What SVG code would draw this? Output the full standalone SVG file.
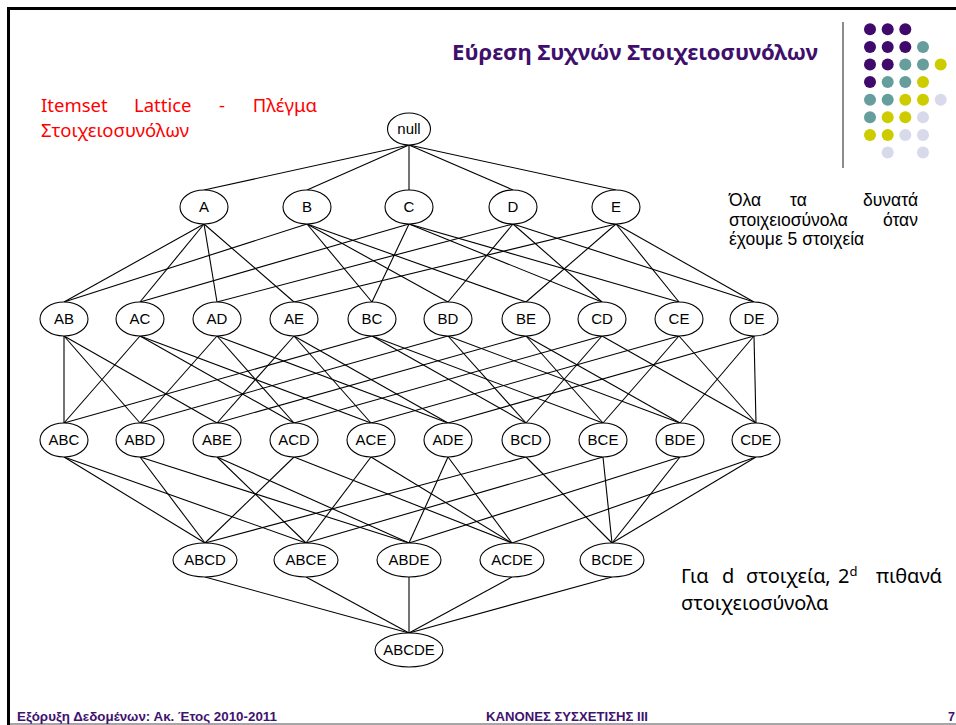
<svg xmlns="http://www.w3.org/2000/svg" width="956" height="725" viewBox="0 0 956 725">
  <defs>
    <style>
      .node ellipse { fill: #ffffff; stroke: #000000; stroke-width: 1.1; }
      .node text { font-family: "Liberation Sans", Arial, sans-serif; font-size: 15px; fill: #000000; text-anchor: middle; }
      #edges line { stroke: #000000; stroke-width: 1.1; }
      .title { font-family: "Noto Sans", "Open Sans", sans-serif; font-weight: bold; font-size: 21.5px; fill: #3f0f6c; }
      .red { font-family: "Noto Sans", "Open Sans", sans-serif; font-size: 18.5px; fill: #ff0000; }
      .note { font-family: "Liberation Sans", Arial, sans-serif; font-size: 17.5px; fill: #000000; }
      .note2 { font-family: "Noto Sans", "Open Sans", sans-serif; font-size: 20px; fill: #000000; }
      .foot { font-family: "Liberation Sans", Arial, sans-serif; font-weight: bold; font-size: 12.5px; fill: #3f1170; }
      .p { fill: #3f0a6b; }
      .t { fill: #669e9e; }
      .y { fill: #cccc00; }
      .l { fill: #d9d9ec; }
    </style>
  </defs>

  <rect x="0" y="0" width="956" height="725" fill="#ffffff"/>

  <!-- slide frame -->
  <line x1="7" y1="8.5" x2="956" y2="8.5" stroke="#000000" stroke-width="3"/>
  <line x1="8.5" y1="7" x2="8.5" y2="725" stroke="#000000" stroke-width="3"/>
  <line x1="10" y1="724" x2="956" y2="724" stroke="#888888" stroke-width="1.5"/>
  <line x1="843" y1="22" x2="843" y2="168" stroke="#666666" stroke-width="1.5"/>

  <!-- decorative dot grid -->
  <g id="dots">
    <circle class="p" cx="870" cy="29.3" r="6"/><circle class="p" cx="887.7" cy="29.3" r="6"/><circle class="p" cx="905.3" cy="29.3" r="6"/>
    <circle class="p" cx="870" cy="46.9" r="6"/><circle class="p" cx="887.7" cy="46.9" r="6"/><circle class="p" cx="905.3" cy="46.9" r="6"/><circle class="t" cx="923" cy="46.9" r="6"/>
    <circle class="p" cx="870" cy="64.5" r="6"/><circle class="p" cx="887.7" cy="64.5" r="6"/><circle class="t" cx="905.3" cy="64.5" r="6"/><circle class="t" cx="923" cy="64.5" r="6"/><circle class="y" cx="940.7" cy="64.5" r="6"/>
    <circle class="p" cx="870" cy="82.1" r="6"/><circle class="t" cx="887.7" cy="82.1" r="6"/><circle class="t" cx="905.3" cy="82.1" r="6"/><circle class="y" cx="923" cy="82.1" r="6"/>
    <circle class="t" cx="870" cy="99.7" r="6"/><circle class="t" cx="887.7" cy="99.7" r="6"/><circle class="y" cx="905.3" cy="99.7" r="6"/><circle class="y" cx="923" cy="99.7" r="6"/><circle class="l" cx="940.7" cy="99.7" r="6"/>
    <circle class="t" cx="870" cy="117.3" r="6"/><circle class="y" cx="887.7" cy="117.3" r="6"/><circle class="y" cx="905.3" cy="117.3" r="6"/><circle class="l" cx="923" cy="117.3" r="6"/>
    <circle class="y" cx="870" cy="134.9" r="6"/><circle class="y" cx="887.7" cy="134.9" r="6"/><circle class="l" cx="905.3" cy="134.9" r="6"/><circle class="l" cx="923" cy="134.9" r="6"/>
    <circle class="l" cx="887.7" cy="152.5" r="6"/><circle class="l" cx="923" cy="152.5" r="6"/>
  </g>

  <!-- headings and notes -->
  <text class="title" x="452" y="60" textLength="366" lengthAdjust="spacingAndGlyphs">Εύρεση Συχνών Στοιχειοσυνόλων</text>

  <g class="red">
    <text x="41" y="112">Itemset</text>
    <text x="134" y="112">Lattice</text>
    <text x="219" y="112">-</text>
    <text x="317" y="112" text-anchor="end">Πλέγμα</text>
    <text x="41" y="137">Στοιχειοσυνόλων</text>
  </g>

  <g class="note">
    <text x="729" y="206">Όλα</text>
    <text x="790" y="206">τα</text>
    <text x="918" y="206" text-anchor="end">δυνατά</text>
    <text x="729" y="226">στοιχειοσύνολα</text>
    <text x="918" y="226" text-anchor="end">όταν</text>
    <text x="729" y="245">έχουμε 5 στοιχεία</text>
  </g>

  <g class="note2">
    <text x="681" y="583">Για</text>
    <text x="722" y="583">d</text>
    <text x="746" y="583">στοιχεία,</text>
    <text x="838" y="583">2<tspan dy="-7" font-size="13">d</tspan></text>
    <text x="942" y="583" text-anchor="end">πιθανά</text>
    <text x="681" y="610">στοιχειοσύνολα</text>
  </g>

  <g class="foot">
    <text x="17" y="721" textLength="260" lengthAdjust="spacingAndGlyphs">Εξόρυξη Δεδομένων: Ακ. Έτος 2010-2011</text>
    <text x="486" y="721" textLength="162" lengthAdjust="spacingAndGlyphs">ΚΑΝΟΝΕΣ ΣΥΣΧΕΤΙΣΗΣ ΙΙΙ</text>
    <text x="948" y="721">7</text>
  </g>

  <!-- lattice connectors: bottom of subset to top of superset -->
  <g id="edges">
    <line x1="409" y1="145" x2="204" y2="190"/>
    <line x1="409" y1="145" x2="307" y2="190"/>
    <line x1="409" y1="145" x2="409" y2="190"/>
    <line x1="409" y1="145" x2="513" y2="190"/>
    <line x1="409" y1="145" x2="616" y2="190"/>

    <line x1="204" y1="224" x2="64" y2="302"/>
    <line x1="204" y1="224" x2="140" y2="302"/>
    <line x1="204" y1="224" x2="217" y2="302"/>
    <line x1="204" y1="224" x2="294" y2="302"/>
    <line x1="307" y1="224" x2="64" y2="302"/>
    <line x1="307" y1="224" x2="372" y2="302"/>
    <line x1="307" y1="224" x2="448" y2="302"/>
    <line x1="307" y1="224" x2="526" y2="302"/>
    <line x1="409" y1="224" x2="140" y2="302"/>
    <line x1="409" y1="224" x2="372" y2="302"/>
    <line x1="409" y1="224" x2="602" y2="302"/>
    <line x1="409" y1="224" x2="679" y2="302"/>
    <line x1="513" y1="224" x2="217" y2="302"/>
    <line x1="513" y1="224" x2="448" y2="302"/>
    <line x1="513" y1="224" x2="602" y2="302"/>
    <line x1="513" y1="224" x2="754" y2="302"/>
    <line x1="616" y1="224" x2="294" y2="302"/>
    <line x1="616" y1="224" x2="526" y2="302"/>
    <line x1="616" y1="224" x2="679" y2="302"/>
    <line x1="616" y1="224" x2="754" y2="302"/>

    <line x1="64" y1="336" x2="64" y2="423"/>
    <line x1="64" y1="336" x2="140" y2="423"/>
    <line x1="64" y1="336" x2="217" y2="423"/>
    <line x1="140" y1="336" x2="64" y2="423"/>
    <line x1="140" y1="336" x2="294" y2="423"/>
    <line x1="140" y1="336" x2="371" y2="423"/>
    <line x1="217" y1="336" x2="140" y2="423"/>
    <line x1="217" y1="336" x2="294" y2="423"/>
    <line x1="217" y1="336" x2="448" y2="423"/>
    <line x1="294" y1="336" x2="217" y2="423"/>
    <line x1="294" y1="336" x2="371" y2="423"/>
    <line x1="294" y1="336" x2="448" y2="423"/>
    <line x1="372" y1="336" x2="64" y2="423"/>
    <line x1="372" y1="336" x2="526" y2="423"/>
    <line x1="372" y1="336" x2="603" y2="423"/>
    <line x1="448" y1="336" x2="140" y2="423"/>
    <line x1="448" y1="336" x2="526" y2="423"/>
    <line x1="448" y1="336" x2="680" y2="423"/>
    <line x1="526" y1="336" x2="217" y2="423"/>
    <line x1="526" y1="336" x2="603" y2="423"/>
    <line x1="526" y1="336" x2="680" y2="423"/>
    <line x1="602" y1="336" x2="294" y2="423"/>
    <line x1="602" y1="336" x2="526" y2="423"/>
    <line x1="602" y1="336" x2="756" y2="423"/>
    <line x1="679" y1="336" x2="371" y2="423"/>
    <line x1="679" y1="336" x2="603" y2="423"/>
    <line x1="679" y1="336" x2="756" y2="423"/>
    <line x1="754" y1="336" x2="448" y2="423"/>
    <line x1="754" y1="336" x2="680" y2="423"/>
    <line x1="754" y1="336" x2="756" y2="423"/>

    <line x1="64" y1="457" x2="205" y2="543"/>
    <line x1="64" y1="457" x2="306" y2="543"/>
    <line x1="140" y1="457" x2="205" y2="543"/>
    <line x1="140" y1="457" x2="409" y2="543"/>
    <line x1="217" y1="457" x2="306" y2="543"/>
    <line x1="217" y1="457" x2="409" y2="543"/>
    <line x1="294" y1="457" x2="205" y2="543"/>
    <line x1="294" y1="457" x2="512" y2="543"/>
    <line x1="371" y1="457" x2="306" y2="543"/>
    <line x1="371" y1="457" x2="512" y2="543"/>
    <line x1="448" y1="457" x2="409" y2="543"/>
    <line x1="448" y1="457" x2="512" y2="543"/>
    <line x1="526" y1="457" x2="205" y2="543"/>
    <line x1="526" y1="457" x2="612" y2="543"/>
    <line x1="603" y1="457" x2="306" y2="543"/>
    <line x1="603" y1="457" x2="612" y2="543"/>
    <line x1="680" y1="457" x2="409" y2="543"/>
    <line x1="680" y1="457" x2="612" y2="543"/>
    <line x1="756" y1="457" x2="512" y2="543"/>
    <line x1="756" y1="457" x2="612" y2="543"/>

    <line x1="205" y1="577" x2="409" y2="633"/>
    <line x1="306" y1="577" x2="409" y2="633"/>
    <line x1="409" y1="577" x2="409" y2="633"/>
    <line x1="512" y1="577" x2="409" y2="633"/>
    <line x1="612" y1="577" x2="409" y2="633"/>
  </g>

  <!-- lattice nodes -->
  <g id="n-null" class="node"><ellipse cx="409" cy="129" rx="21.5" ry="16"/><text x="409" y="134">null</text></g>

  <g id="n-A" class="node"><ellipse cx="204" cy="207" rx="24" ry="17"/><text x="204" y="212">A</text></g>
  <g id="n-B" class="node"><ellipse cx="307" cy="207" rx="24" ry="17"/><text x="307" y="212">B</text></g>
  <g id="n-C" class="node"><ellipse cx="409" cy="207" rx="24" ry="17"/><text x="409" y="212">C</text></g>
  <g id="n-D" class="node"><ellipse cx="513" cy="207" rx="24" ry="17"/><text x="513" y="212">D</text></g>
  <g id="n-E" class="node"><ellipse cx="616" cy="207" rx="24" ry="17"/><text x="616" y="212">E</text></g>

  <g id="n-AB" class="node"><ellipse cx="64" cy="319" rx="24" ry="17"/><text x="64" y="324">AB</text></g>
  <g id="n-AC" class="node"><ellipse cx="140" cy="319" rx="24" ry="17"/><text x="140" y="324">AC</text></g>
  <g id="n-AD" class="node"><ellipse cx="217" cy="319" rx="24" ry="17"/><text x="217" y="324">AD</text></g>
  <g id="n-AE" class="node"><ellipse cx="294" cy="319" rx="24" ry="17"/><text x="294" y="324">AE</text></g>
  <g id="n-BC" class="node"><ellipse cx="372" cy="319" rx="24" ry="17"/><text x="372" y="324">BC</text></g>
  <g id="n-BD" class="node"><ellipse cx="448" cy="319" rx="24" ry="17"/><text x="448" y="324">BD</text></g>
  <g id="n-BE" class="node"><ellipse cx="526" cy="319" rx="24" ry="17"/><text x="526" y="324">BE</text></g>
  <g id="n-CD" class="node"><ellipse cx="602" cy="319" rx="24" ry="17"/><text x="602" y="324">CD</text></g>
  <g id="n-CE" class="node"><ellipse cx="679" cy="319" rx="24" ry="17"/><text x="679" y="324">CE</text></g>
  <g id="n-DE" class="node"><ellipse cx="754" cy="319" rx="24" ry="17"/><text x="754" y="324">DE</text></g>

  <g id="n-ABC" class="node"><ellipse cx="64" cy="440" rx="24" ry="17"/><text x="64" y="445">ABC</text></g>
  <g id="n-ABD" class="node"><ellipse cx="140" cy="440" rx="24" ry="17"/><text x="140" y="445">ABD</text></g>
  <g id="n-ABE" class="node"><ellipse cx="217" cy="440" rx="24" ry="17"/><text x="217" y="445">ABE</text></g>
  <g id="n-ACD" class="node"><ellipse cx="294" cy="440" rx="24" ry="17"/><text x="294" y="445">ACD</text></g>
  <g id="n-ACE" class="node"><ellipse cx="371" cy="440" rx="24" ry="17"/><text x="371" y="445">ACE</text></g>
  <g id="n-ADE" class="node"><ellipse cx="448" cy="440" rx="24" ry="17"/><text x="448" y="445">ADE</text></g>
  <g id="n-BCD" class="node"><ellipse cx="526" cy="440" rx="24" ry="17"/><text x="526" y="445">BCD</text></g>
  <g id="n-BCE" class="node"><ellipse cx="603" cy="440" rx="24" ry="17"/><text x="603" y="445">BCE</text></g>
  <g id="n-BDE" class="node"><ellipse cx="680" cy="440" rx="24" ry="17"/><text x="680" y="445">BDE</text></g>
  <g id="n-CDE" class="node"><ellipse cx="756" cy="440" rx="24" ry="17"/><text x="756" y="445">CDE</text></g>

  <g id="n-ABCD" class="node"><ellipse cx="205" cy="560" rx="32" ry="17"/><text x="205" y="565">ABCD</text></g>
  <g id="n-ABCE" class="node"><ellipse cx="306" cy="560" rx="32" ry="17"/><text x="306" y="565">ABCE</text></g>
  <g id="n-ABDE" class="node"><ellipse cx="409" cy="560" rx="32" ry="17"/><text x="409" y="565">ABDE</text></g>
  <g id="n-ACDE" class="node"><ellipse cx="512" cy="560" rx="32" ry="17"/><text x="512" y="565">ACDE</text></g>
  <g id="n-BCDE" class="node"><ellipse cx="612" cy="560" rx="32" ry="17"/><text x="612" y="565">BCDE</text></g>

  <g id="n-ABCDE" class="node"><ellipse cx="409" cy="650" rx="34" ry="17"/><text x="409" y="655">ABCDE</text></g>
</svg>
